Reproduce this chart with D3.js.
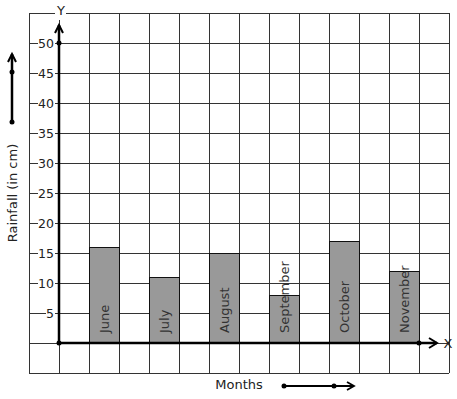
<!DOCTYPE html>
<html>
<head>
<meta charset="utf-8">
<script src="https://cdn.jsdelivr.net/npm/d3@7"></script>
<style>
  html, body { margin: 0; padding: 0; background: #fff; }
  svg { display: block; font-family: "DejaVu Sans", sans-serif; }
</style>
</head>
<body>
<div id="chart"></div>
<script>
// data
const months = ["June", "July", "August", "September", "October", "November"];
const rainfall = [16, 11, 15, 8, 17, 12];
const yTicks = [5, 10, 15, 20, 25, 30, 35, 40, 45, 50];

const W = 457, H = 399;

const svg = d3.select("#chart").append("svg")
    .attr("width", W)
    .attr("height", H);

// grid units: x in columns, y in cm (one cell = 5 cm)
const x = d3.scaleLinear().domain([-1, 13]).range([29, 449]);
const y = d3.scaleLinear().domain([-5, 55]).range([373, 13]);

// grid
const grid = svg.append("g")
    .attr("stroke", "#333")
    .attr("stroke-width", 1)
    .attr("shape-rendering", "crispEdges");

grid.selectAll("line.v")
  .data(d3.range(-1, 14))
  .join("line")
    .attr("x1", d => x(d) + 0.5).attr("x2", d => x(d) + 0.5)
    .attr("y1", y(55)).attr("y2", y(-5));

grid.selectAll("line.h")
  .data(d3.range(-5, 60, 5))
  .join("line")
    .attr("y1", d => y(d) + 0.5).attr("y2", d => y(d) + 0.5)
    .attr("x1", x(-1)).attr("x2", x(13));

// bars
months.forEach((m, i) => {
  const x0 = x(1 + 2 * i), x1 = x(2 + 2 * i);
  svg.append("rect")
    .attr("x", x0 + 0.5)
    .attr("y", y(rainfall[i]) + 0.5)
    .attr("width", x1 - x0)
    .attr("height", y(0) - y(rainfall[i]))
    .attr("fill", "#999")
    .attr("stroke", "#111")
    .attr("stroke-width", 1);

  svg.append("text")
    .attr("transform", `translate(${(x0 + x1) / 2 + 5},${y(0) - 10}) rotate(-90)`)
    .attr("text-anchor", "start")
    .style("font-size", "13px")
    .style("fill", "#333")
    .text(m);
});

// y tick labels with white backing
const tickG = svg.append("g");
yTicks.forEach(t => {
  tickG.append("rect")
    .attr("x", 56 - 8 * String(t).length - 2)
    .attr("y", y(t) - 6)
    .attr("width", 8 * String(t).length + 1)
    .attr("height", 11)
    .attr("fill", "#fff");
  tickG.append("text")
    .attr("x", 54)
    .attr("y", y(t) + 5)
    .attr("text-anchor", "end")
    .style("font-size", "12.5px")
    .style("fill", "#222")
    .text(t);
});

// axes
const ax = svg.append("g").attr("stroke", "#000").attr("fill", "none");
const ox = x(0), oy = y(0);

ax.append("line")
  .attr("x1", ox).attr("y1", oy).attr("x2", ox).attr("y2", 25)
  .attr("stroke-width", 2.5);
ax.append("path")
  .attr("d", `M${ox - 4},33 L${ox},25 L${ox + 4},33`)
  .attr("stroke-width", 2);

ax.append("line")
  .attr("x1", ox).attr("y1", oy).attr("x2", 437).attr("y2", oy)
  .attr("stroke-width", 2.5);
ax.append("path")
  .attr("d", `M429,${oy - 5} L437,${oy} L429,${oy + 5}`)
  .attr("stroke-width", 2);

// dots on axes
[[ox, oy], [ox, y(50)], [x(12), oy]].forEach(([cx, cy]) => {
  svg.append("circle").attr("cx", cx).attr("cy", cy).attr("r", 2.5).attr("fill", "#000");
});

// axis letters
svg.append("rect").attr("x", 55).attr("y", 6).attr("width", 11).attr("height", 14).attr("fill", "#fff");
svg.append("text")
  .attr("x", 61).attr("y", 15)
  .attr("text-anchor", "middle")
  .style("font-size", "13px").style("fill", "#222")
  .text("Y");
svg.append("text")
  .attr("x", 448).attr("y", oy + 5)
  .attr("text-anchor", "middle")
  .style("font-size", "13px").style("fill", "#222")
  .text("X");

// left arrow
svg.append("line")
  .attr("x1", 12).attr("y1", 122).attr("x2", 12).attr("y2", 54)
  .attr("stroke", "#000").attr("stroke-width", 2.5);
svg.append("path")
  .attr("d", "M8,62 L12,54 L16,62")
  .attr("stroke", "#000").attr("stroke-width", 2).attr("fill", "none");
[72, 122].forEach(cy => {
  svg.append("circle").attr("cx", 12).attr("cy", cy).attr("r", 2.5).attr("fill", "#000");
});

svg.append("text")
  .attr("transform", "translate(17,193) rotate(-90)")
  .attr("text-anchor", "middle")
  .style("font-size", "13px").style("fill", "#222")
  .text("Rainfall (in cm)");

// bottom arrow
svg.append("text")
  .attr("x", 239).attr("y", 389)
  .attr("text-anchor", "middle")
  .style("font-size", "13px").style("fill", "#222")
  .text("Months");
svg.append("line")
  .attr("x1", 284).attr("y1", 386).attr("x2", 354).attr("y2", 386)
  .attr("stroke", "#000").attr("stroke-width", 2);
svg.append("path")
  .attr("d", "M347,382 L354,386 L347,390")
  .attr("stroke", "#000").attr("stroke-width", 1.8).attr("fill", "none");
[284, 334].forEach(cx => {
  svg.append("circle").attr("cx", cx).attr("cy", 386).attr("r", 2.5).attr("fill", "#000");
});
</script>
</body>
</html>
